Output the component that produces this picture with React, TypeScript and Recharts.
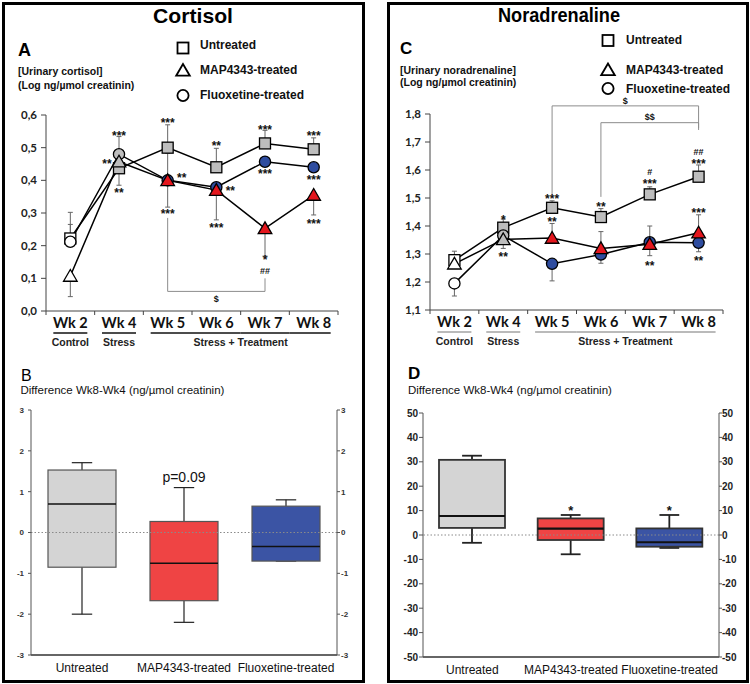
import React from 'react';
import { ComposedChart, Line, Bar, XAxis, YAxis, ErrorBar, ReferenceDot, ReferenceLine } from 'recharts';

// ---------- shared categories ----------
const weeks = ['Wk 2', 'Wk 4', 'Wk 5', 'Wk 6', 'Wk 7', 'Wk 8'];
const weekPhases = ['Control', 'Stress', 'Stress + Treatment', 'Stress + Treatment', 'Stress + Treatment', 'Stress + Treatment'];
const seriesNames = ['Untreated', 'MAP4343-treated', 'Fluoxetine-treated'];
const boxGroups = ['Untreated', 'MAP4343-treated', 'Fluoxetine-treated'];

// ---------- A: cortisol (log ng/umol creatinin) ----------
const cortisolTicks = [0, 0.1, 0.2, 0.3, 0.4, 0.5, 0.6];
const cortisolUntreated = [0.222, 0.437, 0.5, 0.44, 0.513, 0.495];
const cortisolMap = [0.107, 0.457, 0.4, 0.37, 0.253, 0.355];
const cortisolFluox = [0.212, 0.48, 0.4, 0.379, 0.457, 0.44];
// [down, up] error amounts
const cortisolUntreatedErr = [[0, 0.08], [0.052, 0], [0, 0.07], [0, 0.058], [0, 0.04], [0, 0.035]];
const cortisolMapErr = [[0.063, 0], [0, 0], [0.082, 0], [0.091, 0], [0.085, 0], [0.061, 0]];
const cortisolFluoxErr = [[0, 0.053], [0, 0.054], [0, 0.083], [0, 0], [0, 0], [0, 0]];
const cortisolMarks = [
  { wk: 'Wk 4', y: 0.545, text: '***', anchor: 'center' },
  { wk: 'Wk 4', y: 0.459, text: '**', anchor: 'left' },
  { wk: 'Wk 4', y: 0.37, text: '**', anchor: 'center' },
  { wk: 'Wk 5', y: 0.585, text: '***', anchor: 'center' },
  { wk: 'Wk 5', y: 0.416, text: '**', anchor: 'right' },
  { wk: 'Wk 5', y: 0.306, text: '***', anchor: 'center' },
  { wk: 'Wk 6', y: 0.514, text: '**', anchor: 'center' },
  { wk: 'Wk 6', y: 0.376, text: '**', anchor: 'right' },
  { wk: 'Wk 6', y: 0.263, text: '***', anchor: 'center' },
  { wk: 'Wk 7', y: 0.563, text: '***', anchor: 'center' },
  { wk: 'Wk 7', y: 0.428, text: '***', anchor: 'center' },
  { wk: 'Wk 7', y: 0.166, text: '*', anchor: 'center' },
  { wk: 'Wk 7', y: 0.124, text: '##', anchor: 'center' },
  { wk: 'Wk 8', y: 0.545, text: '***', anchor: 'center' },
  { wk: 'Wk 8', y: 0.41, text: '***', anchor: 'center' },
  { wk: 'Wk 8', y: 0.275, text: '***', anchor: 'center' },
  { wk: 'Wk 6', y: 0.037, text: '$', anchor: 'center' },
];
const cortisolBrackets = [{ from: 'Wk 5', to: 'Wk 7', fromY: 0.285, toY: 0.1, barY: 0.06 }];

// ---------- C: noradrenaline ----------
const noradTicks = [1.1, 1.2, 1.3, 1.4, 1.5, 1.6, 1.7, 1.8];
const noradUntreated = [1.278, 1.394, 1.465, 1.432, 1.513, 1.576];
const noradMap = [1.265, 1.352, 1.357, 1.32, 1.335, 1.376];
const noradFluox = [1.195, 1.366, 1.265, 1.298, 1.342, 1.34];
const noradUntreatedErr = [[0, 0.032], [0, 0.031], [0, 0.025], [0, 0.03], [0, 0.027], [0, 0.042]];
const noradMapErr = [[0, 0], [0.032, 0], [0, 0.052], [0, 0.06], [0.041, 0.065], [0, 0.064]];
const noradFluoxErr = [[0.045, 0], [0, 0], [0.061, 0], [0.031, 0], [0, 0], [0.032, 0]];
const noradMarks = [
  { wk: 'Wk 4', y: 1.433, text: '*', anchor: 'center' },
  { wk: 'Wk 4', y: 1.3, text: '**', anchor: 'center' },
  { wk: 'Wk 5', y: 1.505, text: '***', anchor: 'center' },
  { wk: 'Wk 5', y: 1.425, text: '**', anchor: 'center' },
  { wk: 'Wk 6', y: 1.479, text: '**', anchor: 'center' },
  { wk: 'Wk 7', y: 1.594, text: '#', anchor: 'center' },
  { wk: 'Wk 7', y: 1.561, text: '***', anchor: 'center' },
  { wk: 'Wk 7', y: 1.268, text: '**', anchor: 'center' },
  { wk: 'Wk 8', y: 1.665, text: '##', anchor: 'center' },
  { wk: 'Wk 8', y: 1.632, text: '***', anchor: 'center' },
  { wk: 'Wk 8', y: 1.455, text: '***', anchor: 'center' },
  { wk: 'Wk 8', y: 1.286, text: '**', anchor: 'center' },
  { wk: 'Wk 7', y: 1.789, text: '$$', anchor: 'center' },
  { wk: 'Wk 6', y: 1.849, text: '$', anchor: 'between' },
];
const noradBrackets = [
  { from: 'Wk 5', to: 'Wk 8', fromY: 1.511, toY: 1.743, barY: 1.829 },
  { from: 'Wk 6', to: 'Wk 8', fromY: 1.504, toY: 1.75, barY: 1.769 },
];

// ---------- B: cortisol difference Wk8-Wk4 ----------
const cortisolDiffTicks = [-3, -2, -1, 0, 1, 2, 3];
const cortisolDiffMin = [-2.0, -2.2, -0.7];
const cortisolDiffQ1 = [-0.85, -1.67, -0.7];
const cortisolDiffMedian = [0.7, -0.75, -0.34];
const cortisolDiffQ3 = [1.53, 0.27, 0.645];
const cortisolDiffMax = [1.71, 1.1, 0.8];
const cortisolDiffSig = ['', 'p=0.09', ''];

// ---------- D: noradrenaline difference Wk8-Wk4 ----------
const noradDiffTicks = [-50, -40, -30, -20, -10, 0, 10, 20, 30, 40, 50];
const noradDiffMin = [-3.2, -7.9, -5.3];
const noradDiffQ1 = [2.9, -2.05, -4.8];
const noradDiffMedian = [7.8, 2.6, -3.0];
const noradDiffQ3 = [30.8, 6.8, 2.7];
const noradDiffMax = [32.5, 8.2, 8.2];
const noradDiffSig = ['', '*', '*'];

// ---------- styles ----------
const ARIAL = '"Liberation Sans", Arial, sans-serif';
const CAL = 'Lato, "Liberation Sans", sans-serif';
const GRAY = '#bdbdbd';
const RED = '#e3161d';
const BLUE = '#2e4c9f';
const BOX_COLORS = ['#d4d4d4', '#ef4444', '#3b54a4'];

const seriesStyle = [
  { key: 'u', err: 'ue', kind: 'square', color: GRAY },
  { key: 'f', err: 'fe', kind: 'circle', color: BLUE },
  { key: 'm', err: 'me', kind: 'triangle', color: RED },
];
const legendKinds = ['square', 'triangle', 'circle'];

const buildRows = (u: number[], m: number[], f: number[], ue: number[][], me: number[][], fe: number[][]) =>
  weeks.map((wk, i) => ({ wk, u: u[i], m: m[i], f: f[i], ue: ue[i], me: me[i], fe: fe[i] }));

const buildBoxRows = (mn: number[], q1: number[], md: number[], q3: number[], mx: number[], sig: string[]) =>
  boxGroups.map((group, i) => ({ group, min: mn[i], q1: q1[i], median: md[i], q3: q3[i], max: mx[i], sig: sig[i] }));

const Marker = ({ kind, cx, cy, fill, sw = 1.3 }: any) => {
  if (kind === 'square')
    return <rect x={cx - 5.5} y={cy - 5.5} width={11} height={11} fill={fill} stroke="#000" strokeWidth={sw} />;
  if (kind === 'triangle')
    return (
      <polygon
        points={`${cx},${cy - 6.5} ${cx - 6.8},${cy + 5.2} ${cx + 6.8},${cy + 5.2}`}
        fill={fill}
        stroke="#000"
        strokeWidth={sw}
        strokeLinejoin="miter"
      />
    );
  return <circle cx={cx} cy={cy} r={5.6} fill={fill} stroke="#000" strokeWidth={sw} />;
};

const glyphLift = (t: string) => (t.indexOf('*') >= 0 ? 0.57 : 0.36);

const AnnoText = ({ cx, cy, text, anchor, bw }: any) => {
  const small = text.indexOf('*') < 0;
  const fs = small ? 9 : 12;
  const dx = anchor === 'left' ? -12 : anchor === 'right' ? 14 : anchor === 'between' ? bw / 2 : 0;
  return (
    <text
      x={cx + dx}
      y={cy + glyphLift(text) * fs}
      textAnchor="middle"
      fontFamily={ARIAL}
      fontWeight={700}
      fontSize={fs}
      fill="#111"
    >
      {text}
    </text>
  );
};

const makeWeekTick = (bw: number, ulColor: string, ulWidth: number) => (props: any) => {
  const { x, y, payload } = props;
  const i = payload.index;
  const n = weeks.length;
  const phase = weekPhases[i];
  const first = weekPhases.indexOf(phase);
  const last = weekPhases.lastIndexOf(phase);
  const half = 17;
  const x1 = i === first ? x - half : x - bw / 2;
  const x2 = i === last ? x + half : x + bw / 2;
  const mid = Math.floor((first + last) / 2);
  const gx = x + ((first + last) / 2 - i) * bw;
  return (
    <g>
      <line x1={x - bw / 2} y1={y} x2={x - bw / 2} y2={y + 4} stroke="#444" strokeWidth={1} />
      {i === n - 1 && <line x1={x + bw / 2} y1={y} x2={x + bw / 2} y2={y + 4} stroke="#444" strokeWidth={1} />}
      <text x={x} y={y + 17} textAnchor="middle" fontFamily={CAL} fontWeight={700} fontSize={14.5} fill="#111">
        {payload.value}
      </text>
      <line x1={x1} y1={y + 22} x2={x2} y2={y + 22} stroke={ulColor} strokeWidth={ulWidth} />
      {i === mid && (
        <text x={gx} y={y + 35} textAnchor="middle" fontFamily={ARIAL} fontWeight={700} fontSize={10.5} fill="#222">
          {phase}
        </text>
      )}
    </g>
  );
};

const LinePanel = ({ rows, ticks, marks, brackets, width, height, margin, ulColor, ulWidth }: any) => {
  const yAxisW = 40;
  const plotW = width - margin.left - margin.right - yAxisW;
  const bw = plotW / weeks.length;
  const fmt = (v: number) => v.toFixed(1).replace('.', ',');
  return (
    <ComposedChart width={width} height={height} data={rows} margin={margin}>
      <XAxis
        dataKey="wk"
        type="category"
        scale="band"
        interval={0}
        height={50}
        tickLine={false}
        tickSize={0}
        tickMargin={0}
        axisLine={{ stroke: '#444', strokeWidth: 1 }}
        tick={makeWeekTick(bw, ulColor, ulWidth)}
      />
      <YAxis
        type="number"
        domain={[ticks[0], ticks[ticks.length - 1]]}
        ticks={ticks}
        width={yAxisW}
        tickSize={5}
        tickMargin={4}
        tickFormatter={fmt}
        axisLine={{ stroke: '#444', strokeWidth: 1 }}
        tickLine={{ stroke: '#444' }}
        tick={{ fontFamily: CAL, fontWeight: 700, fontSize: 11.5, fill: '#222' }}
      />
      {brackets.map((b: any, k: number) => [
        <ReferenceLine key={`bl${k}`} segment={[{ x: b.from, y: b.fromY }, { x: b.from, y: b.barY }]} stroke="#8c8c8c" strokeWidth={1} ifOverflow="visible" />,
        <ReferenceLine key={`bh${k}`} segment={[{ x: b.from, y: b.barY }, { x: b.to, y: b.barY }]} stroke="#8c8c8c" strokeWidth={1} ifOverflow="visible" />,
        <ReferenceLine key={`br${k}`} segment={[{ x: b.to, y: b.barY }, { x: b.to, y: b.toY }]} stroke="#8c8c8c" strokeWidth={1} ifOverflow="visible" />,
      ])}
      {seriesStyle.map((s) => (
        <Line
          key={s.key}
          dataKey={s.key}
          stroke="#000"
          strokeWidth={1.5}
          isAnimationActive={false}
          activeDot={false}
          dot={(p: any) => {
            const fill = p.index === 0 ? '#fff' : p.index === 1 ? GRAY : s.color;
            return (
              <g key={`${s.key}-${p.index}`}>
                <Marker kind={s.kind} cx={p.cx} cy={p.cy} fill={fill} />
              </g>
            );
          }}
        >
          <ErrorBar dataKey={s.err} width={2.5} stroke="#666" strokeWidth={1} direction="y" />
        </Line>
      ))}
      {marks.map((a: any, k: number) => (
        <ReferenceDot
          key={`m${k}`}
          x={a.wk}
          y={a.y}
          r={0}
          ifOverflow="visible"
          shape={(p: any) => <AnnoText cx={p.cx} cy={p.cy} text={a.text} anchor={a.anchor} bw={bw} />}
        />
      ))}
    </ComposedChart>
  );
};

const BoxShape = (props: any) => {
  const { x, y, width, height, payload, index, boxStroke, boxSW, sigGap, sigSize } = props;
  if (!payload) return null;
  const top = Math.min(y, y + height);
  const bot = Math.max(y, y + height);
  const k = (bot - top) / (payload.max - payload.min);
  const Y = (v: number) => bot - (v - payload.min) * k;
  const cx = x + width / 2;
  const cap = width * 0.15;
  const sig = payload.sig;
  const fs = sig === '*' ? sigSize : 14;
  const labelCenter = Y(payload.max) - sigGap;
  return (
    <g>
      <line x1={cx} y1={Y(payload.max)} x2={cx} y2={Y(payload.q3)} stroke="#222" strokeWidth={boxSW} />
      <line x1={cx - cap} y1={Y(payload.max)} x2={cx + cap} y2={Y(payload.max)} stroke="#222" strokeWidth={boxSW} />
      <line x1={cx} y1={Y(payload.q1)} x2={cx} y2={Y(payload.min)} stroke="#222" strokeWidth={boxSW} />
      <line x1={cx - cap} y1={Y(payload.min)} x2={cx + cap} y2={Y(payload.min)} stroke="#222" strokeWidth={boxSW} />
      <rect
        x={x}
        y={Y(payload.q3)}
        width={width}
        height={Y(payload.q1) - Y(payload.q3)}
        fill={BOX_COLORS[index]}
        stroke={boxStroke}
        strokeWidth={boxSW}
      />
      <line x1={x} y1={Y(payload.median)} x2={x + width} y2={Y(payload.median)} stroke="#111" strokeWidth={boxSW + 0.3} />
      {sig && (
        <text
          x={cx}
          y={labelCenter + glyphLift(sig) * fs}
          textAnchor="middle"
          fontFamily={ARIAL}
          fontSize={fs}
          fontWeight={sig === '*' ? 700 : 400}
          fill="#111"
        >
          {sig}
        </text>
      )}
    </g>
  );
};

const BoxPanel = ({ rows, ticks, width, height, margin, leftW, rightW, barSize, tickFont, lTick, rTick, boxStroke, boxSW, sigGap, sigSize }: any) => (
  <ComposedChart width={width} height={height} data={rows} margin={margin}>
    <XAxis
      dataKey="group"
      interval={0}
      height={25}
      tickLine={false}
      axisLine={{ stroke: '#333', strokeWidth: 1.3 }}
      tick={{ fontFamily: ARIAL, fontSize: 12, fill: '#111' }}
    />
    <YAxis
      yAxisId="l"
      type="number"
      domain={[ticks[0], ticks[ticks.length - 1]]}
      ticks={ticks}
      width={leftW}
      tickSize={lTick[0]}
      tickMargin={lTick[1]}
      axisLine={{ stroke: '#555' }}
      tickLine={{ stroke: '#555' }}
      tick={tickFont}
    />
    <YAxis
      yAxisId="r"
      orientation="right"
      type="number"
      domain={[ticks[0], ticks[ticks.length - 1]]}
      ticks={ticks}
      width={rightW}
      tickSize={rTick[0]}
      tickMargin={rTick[1]}
      axisLine={{ stroke: '#555' }}
      tickLine={{ stroke: '#555' }}
      tick={tickFont}
    />
    <ReferenceLine yAxisId="r" y={0} stroke="#8a8a8a" strokeDasharray="1.5 2" strokeWidth={1} />
    <Line yAxisId="r" dataKey="median" stroke="none" dot={false} activeDot={false} legendType="none" isAnimationActive={false} />
    <Bar
      yAxisId="l"
      dataKey={(d: any) => [d.min, d.max]}
      barSize={barSize}
      isAnimationActive={false}
      shape={(p: any) => <BoxShape {...p} boxStroke={boxStroke} boxSW={boxSW} sigGap={sigGap} sigSize={sigSize} />}
    />
  </ComposedChart>
);

const Legend = ({ x, tx, rows, baselines }: any) => (
  <g>
    {seriesNames.map((name, i) => (
      <g key={name}>
        <Marker kind={legendKinds[i]} cx={x} cy={rows[i]} fill="#fff" sw={1.8} />
        <text x={tx} y={baselines[i]} fontFamily={ARIAL} fontWeight={700} fontSize={12} fill="#111">
          {name}
        </text>
      </g>
    ))}
  </g>
);

const cortisolRows = buildRows(cortisolUntreated, cortisolMap, cortisolFluox, cortisolUntreatedErr, cortisolMapErr, cortisolFluoxErr);
const noradRows = buildRows(noradUntreated, noradMap, noradFluox, noradUntreatedErr, noradMapErr, noradFluoxErr);
const cortisolBoxRows = buildBoxRows(cortisolDiffMin, cortisolDiffQ1, cortisolDiffMedian, cortisolDiffQ3, cortisolDiffMax, cortisolDiffSig);
const noradBoxRows = buildBoxRows(noradDiffMin, noradDiffQ1, noradDiffMedian, noradDiffQ3, noradDiffMax, noradDiffSig);

export default function App() {
  return (
    <div style={{ position: 'absolute', left: 0, top: 0, width: 750, height: 684, background: '#fff', fontFamily: ARIAL, overflow: 'hidden' }}>
      <div style={{ position: 'absolute', left: 0, top: 0 }}>
        <LinePanel
          rows={cortisolRows}
          ticks={cortisolTicks}
          marks={cortisolMarks}
          brackets={cortisolBrackets}
          width={365}
          height={370}
          margin={{ top: 115, right: 27, left: 6, bottom: 9 }}
          ulColor="#111"
          ulWidth={1.6}
        />
      </div>
      <div style={{ position: 'absolute', left: 388, top: 0 }}>
        <LinePanel
          rows={noradRows}
          ticks={noradTicks}
          marks={noradMarks}
          brackets={noradBrackets}
          width={360}
          height={370}
          margin={{ top: 114, right: 25, left: 2, bottom: 10 }}
          ulColor="#777"
          ulWidth={1.2}
        />
      </div>
      <div style={{ position: 'absolute', left: 0, top: 390 }}>
        <BoxPanel
          rows={cortisolBoxRows}
          ticks={cortisolDiffTicks}
          width={365}
          height={290}
          margin={{ top: 20, right: 3, left: 6, bottom: 0 }}
          leftW={25}
          rightW={25}
          barSize={68}
          tickFont={{ fontFamily: ARIAL, fontSize: 8, fontWeight: 700, fill: '#333' }}
          lTick={[3, 4]}
          rTick={[3, 1]}
          boxStroke="#555"
          boxSW={1.2}
          sigGap={11}
          sigSize={13}
        />
      </div>
      <div style={{ position: 'absolute', left: 388, top: 390 }}>
        <BoxPanel
          rows={noradBoxRows}
          ticks={noradDiffTicks}
          width={360}
          height={292}
          margin={{ top: 23, right: 0, left: 5, bottom: 0 }}
          leftW={30}
          rightW={29}
          barSize={66}
          tickFont={{ fontFamily: ARIAL, fontSize: 10, fontWeight: 700, fill: '#222' }}
          lTick={[4, 1]}
          rTick={[3, 0]}
          boxStroke="#333"
          boxSW={1.8}
          sigGap={7}
          sigSize={13}
        />
      </div>
      <svg width={750} height={684} style={{ position: 'absolute', left: 0, top: 0, pointerEvents: 'none' }}>
        <rect x={3.5} y={3.5} width={360} height={678} fill="none" stroke="#000" strokeWidth={3} />
        <rect x={388.5} y={3.5} width={359} height={678} fill="none" stroke="#000" strokeWidth={3} />
        <text x={193} y={23} textAnchor="middle" fontFamily={ARIAL} fontWeight={700} fontSize={21} textLength={80} lengthAdjust="spacingAndGlyphs" fill="#000">Cortisol</text>
        <text x={559} y={22} textAnchor="middle" fontFamily={ARIAL} fontWeight={700} fontSize={21} textLength={122} lengthAdjust="spacingAndGlyphs" fill="#000">Noradrenaline</text>
        <text x={18} y={56} fontFamily={ARIAL} fontWeight={700} fontSize={18} fill="#000">A</text>
        <text x={18} y={75} fontFamily={ARIAL} fontWeight={700} fontSize={10.5} fill="#111">[Urinary cortisol]</text>
        <text x={18} y={89} fontFamily={ARIAL} fontWeight={700} fontSize={10.5} fill="#111">(Log ng/µmol creatinin)</text>
        <text x={400} y={54} fontFamily={ARIAL} fontWeight={700} fontSize={17} fill="#000">C</text>
        <text x={400} y={74} fontFamily={ARIAL} fontWeight={700} fontSize={10.5} fill="#111">[Urinary noradrenaline]</text>
        <text x={400} y={86} fontFamily={ARIAL} fontWeight={700} fontSize={10.5} fill="#111">(Log ng/µmol creatinin)</text>
        <Legend x={183} tx={200} rows={[48, 70.5, 95.5]} baselines={[49, 74, 99]} />
        <Legend x={608} tx={626} rows={[40.5, 70, 88.5]} baselines={[44, 74, 93]} />
        <text x={21} y={381} fontFamily={ARIAL} fontSize={16} fill="#000">B</text>
        <text x={20.5} y={394} fontFamily={ARIAL} fontSize={11.5} fill="#111">Difference Wk8-Wk4 (ng/µmol creatinin)</text>
        <text x={408} y={379} fontFamily={ARIAL} fontWeight={700} fontSize={17} fill="#000">D</text>
        <text x={408} y={394} fontFamily={ARIAL} fontSize={11.5} fill="#111">Difference Wk8-Wk4 (ng/µmol creatinin)</text>
      </svg>
    </div>
  );
}
